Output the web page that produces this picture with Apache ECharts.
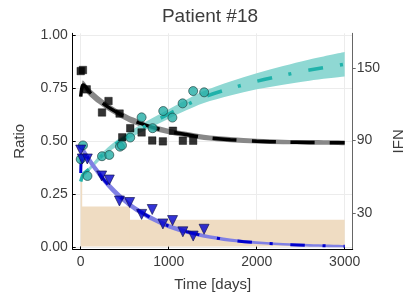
<!DOCTYPE html>
<html>
<head>
<meta charset="utf-8">
<script src="https://cdn.jsdelivr.net/npm/echarts@6/dist/echarts.min.js"></script>
<style>html,body{margin:0;padding:0;background:#fff}#c{width:420px;height:300px}</style>
</head>
<body>
<div id="c"></div>
<script>
// ---- data ----
const xTicks = [0, 1000, 2000, 3000];
const ratioTicks = [0, 0.25, 0.5, 0.75, 1.0];
const ifnTicks = [30, 90, 150];

// black squares
const sqDays  = [0, 25, 68, 316, 242, 442, 563, 472, 692, 813, 934, 1048, 1161, 1278];
const sqRatio = [0.830, 0.835, 0.744, 0.689, 0.635, 0.630, 0.561, 0.518, 0.541, 0.503, 0.499, 0.549, 0.502, 0.502];
// teal circles
const ciDays  = [26, 0, 77, 242, 325, 446, 469, 563, 692, 817, 938, 1042, 1158, 1278, 1403];
const ciRatio = [0.480, 0.415, 0.336, 0.429, 0.435, 0.474, 0.480, 0.517, 0.612, 0.561, 0.642, 0.611, 0.678, 0.736, 0.730];
// blue triangles
const trDays  = [0, 18, 75, 238, 325, 440, 556, 692, 813, 934, 1044, 1161, 1278, 1402];
const trRatio = [0.458, 0.416, 0.416, 0.336, 0.317, 0.218, 0.211, 0.155, 0.178, 0.110, 0.126, 0.073, 0.053, 0.085];

// model curves (read at these days)
const curveDays = [0, 15, 30, 100, 200, 300, 400, 500, 600, 800, 1000, 1200, 1400, 1700, 2000, 2300, 2600, 3000];
const blackMean = [0.710, 0.755, 0.765, 0.731, 0.695, 0.664, 0.638, 0.615, 0.596, 0.567, 0.546, 0.531, 0.518, 0.507, 0.500, 0.496, 0.494, 0.492];
const blackHalf = [0.012, 0.018, 0.020, 0.019, 0.018, 0.017, 0.016, 0.015, 0.015, 0.014, 0.013, 0.013, 0.012, 0.012, 0.011, 0.011, 0.011, 0.011];
const tealMean  = [0.310, 0.330, 0.345, 0.370, 0.415, 0.455, 0.487, 0.515, 0.540, 0.585, 0.628, 0.670, 0.708, 0.748, 0.782, 0.810, 0.835, 0.862];
const tealHalf  = [0.006, 0.008, 0.009, 0.010, 0.012, 0.013, 0.015, 0.016, 0.017, 0.020, 0.022, 0.025, 0.028, 0.033, 0.038, 0.044, 0.050, 0.058];
const blueMean  = [0.350, 0.460, 0.455, 0.410, 0.352, 0.300, 0.257, 0.220, 0.188, 0.138, 0.100, 0.074, 0.054, 0.034, 0.022, 0.014, 0.009, 0.005];
const blueHalf  = [0.010, 0.018, 0.018, 0.018, 0.017, 0.016, 0.015, 0.014, 0.013, 0.012, 0.011, 0.010, 0.009, 0.008, 0.007, 0.006, 0.006, 0.005];

// IFN dose (step levels, right axis): level i holds from ifnStart[i] to ifnEnd[i]
const ifnStart  = [0, 8, 560];
const ifnEnd    = [8, 560, 3000];
const ifnValues = [58, 35.5, 24.5];
const ifnBase = 2.3;

// ---- build ----
const pairs = (xs, ys) => xs.map((x, i) => [x, ys[i]]);
const TXT = '#3c3c3c';
const FONT = 'Liberation Sans';

// Catmull-Rom smoothed path through pixel points (rendering only)
function smoothPath(pts, moveFirst) {
  let s = (moveFirst ? 'M' : 'L') + pts[0][0] + ' ' + pts[0][1];
  for (let i = 0; i < pts.length - 1; i++) {
    const p0 = pts[Math.max(i - 1, 0)], p1 = pts[i], p2 = pts[i + 1], p3 = pts[Math.min(i + 2, pts.length - 1)];
    const c1 = [p1[0] + (p2[0] - p0[0]) / 6, p1[1] + (p2[1] - p0[1]) / 6];
    const c2 = [p2[0] - (p3[0] - p1[0]) / 6, p2[1] - (p3[1] - p1[1]) / 6];
    s += 'C' + c1[0] + ' ' + c1[1] + ' ' + c2[0] + ' ' + c2[1] + ' ' + p2[0] + ' ' + p2[1];
  }
  return s;
}
function band(mean, half, color) {
  return {
    type: 'custom', data: [[0, 0]], silent: true, z: 2,
    renderItem: (params, api) => {
      const up = curveDays.map((d, i) => api.coord([d, mean[i] + half[i]]));
      const lo = curveDays.map((d, i) => api.coord([d, mean[i] - half[i]])).reverse();
      const d = smoothPath(up, true) + smoothPath(lo, false) + 'Z';
      return {type: 'path', shape: {pathData: d}, style: {fill: color, stroke: null}};
    }
  };
}
function meanLine(mean, color, dash, width) {
  return {type: 'line', data: pairs(curveDays, mean), smooth: 0.3, symbol: 'none',
    lineStyle: {color: color, width: width, type: dash, cap: 'butt'}, z: 3};
}

const option = {
  animation: false,
  backgroundColor: '#fff',
  title: {text: 'Patient #18', left: 'center', top: 2,
    textStyle: {fontFamily: FONT, fontSize: 19, fontWeight: 'normal', color: TXT}},
  grid: {left: 72.7, right: 67.3, top: 33.3, bottom: 50.7},
  xAxis: {
    type: 'value', min: -91, max: 3091,
    name: 'Time [days]', nameLocation: 'middle', nameGap: 28,
    nameTextStyle: {fontFamily: FONT, fontSize: 15, color: TXT},
    axisLine: {show: true, onZero: false, lineStyle: {color: '#000', width: 1}},
    axisTick: {show: true, inside: true, length: 3, customValues: xTicks, lineStyle: {color: '#000'}},
    axisLabel: {customValues: xTicks, formatter: v => String(v), fontFamily: FONT, fontSize: 14, color: TXT, margin: 6},
    splitLine: {show: true, lineStyle: {color: '#ececec', width: 1}}
  },
  yAxis: [
    {
      type: 'value', min: -0.0094, max: 1.008, position: 'left',
      name: 'Ratio', nameLocation: 'middle', nameGap: 45, nameRotate: 90,
      nameTextStyle: {fontFamily: FONT, fontSize: 15, color: TXT},
      axisLine: {show: true, onZero: false, lineStyle: {color: '#000', width: 1}},
      axisTick: {show: true, inside: true, length: 3, customValues: ratioTicks, lineStyle: {color: '#000'}},
      axisLabel: {customValues: ratioTicks, formatter: v => v.toFixed(2), fontFamily: FONT, fontSize: 14, color: TXT, margin: 5},
      splitLine: {show: true, lineStyle: {color: '#ececec', width: 1}}
    },
    {
      type: 'value', min: 0, max: 178.8, position: 'right',
      name: 'IFN', nameLocation: 'middle', nameGap: 38, nameRotate: 90,
      nameTextStyle: {fontFamily: FONT, fontSize: 15, color: TXT},
      axisLine: {show: true, onZero: false, lineStyle: {color: '#666', width: 1}},
      axisTick: {show: true, inside: false, length: 3, customValues: ifnTicks, lineStyle: {color: '#666'}},
      axisLabel: {customValues: ifnTicks, fontFamily: FONT, fontSize: 14, color: TXT, margin: 4},
      splitLine: {show: false}
    }
  ],
  series: [
    {type: 'custom', yAxisIndex: 1, silent: true, z: 1,
      data: ifnStart.map((s, i) => [s, ifnEnd[i], ifnValues[i]]),
      encode: {x: [0, 1], y: 2},
      renderItem: (params, api) => {
        const a = api.coord([api.value(0), api.value(2)]);
        const b = api.coord([api.value(1), ifnBase]);
        return {type: 'rect', shape: {x: a[0], y: a[1], width: Math.max(b[0] - a[0], 1.5), height: b[1] - a[1]},
          style: {fill: '#efdcc2', stroke: null}};
      }},
    band(blackMean, blackHalf, '#888888'),
    band(tealMean, tealHalf, '#8fd8d3'),
    band(blueMean, blueHalf, '#8080e4'),
    meanLine(blackMean, '#000000', [24, 15], 3.5),
    meanLine(tealMean, '#20b2aa', [15, 17, 3, 17], 3.5),
    meanLine(blueMean, '#0000cc', [14, 18, 3, 18], 3),
    {type: 'scatter', data: pairs(sqDays, sqRatio), symbol: 'rect', symbolSize: 7.5,
      itemStyle: {color: '#000', borderColor: '#000', borderWidth: 0.5}, z: 5},
    {type: 'scatter', data: pairs(ciDays, ciRatio), symbol: 'circle', symbolSize: 9,
      itemStyle: {color: '#22ada5', borderColor: '#1c3b38', borderWidth: 0.8}, z: 5},
    {type: 'scatter', data: pairs(trDays, trRatio), symbol: 'triangle', symbolRotate: 180, symbolSize: 10,
      itemStyle: {color: '#0000cc', borderColor: '#10104a', borderWidth: 0.8}, z: 5}
  ]
};
const chart = echarts.init(document.getElementById('c'), null, {renderer: 'canvas'});
chart.setOption(option);
</script>
</body>
</html>
